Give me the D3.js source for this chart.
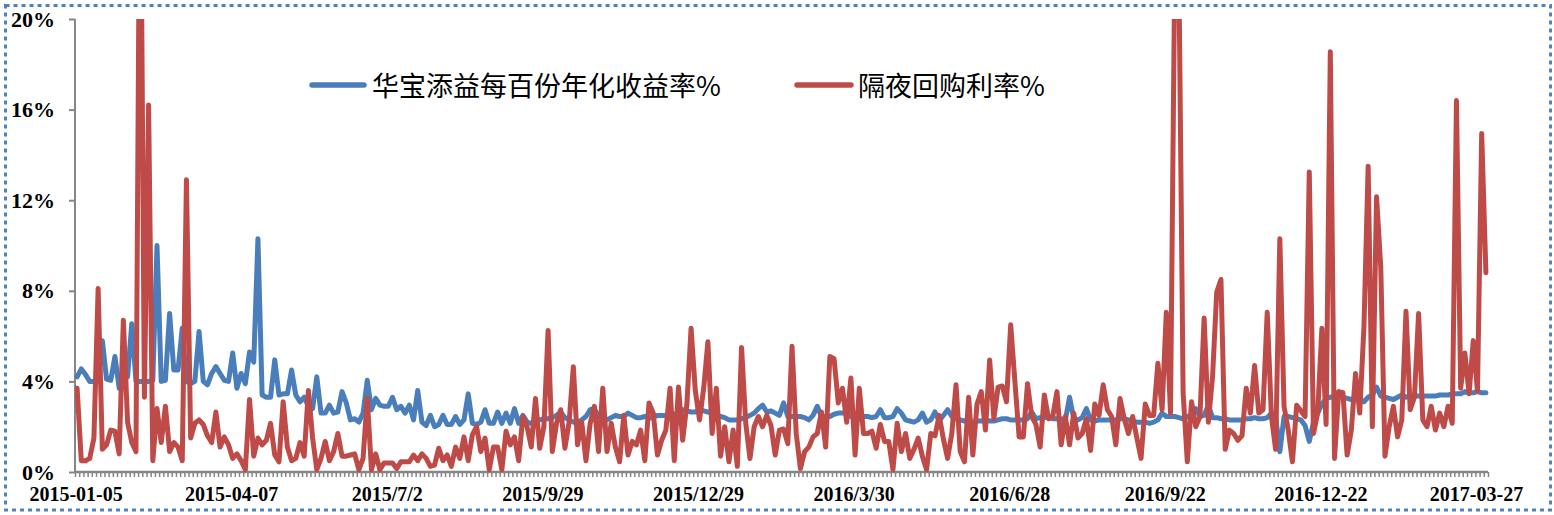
<!DOCTYPE html>
<html>
<head>
<meta charset="utf-8">
<script src="https://cdn.jsdelivr.net/npm/d3@7"></script>
<style>
  html, body { margin: 0; padding: 0; background: #fff; }
  svg { display: block; }
</style>
</head>
<body>
<div id="chart"></div>
<script>
// x axis: one category per observation, a label every 37 categories
var categoryCount = 336;
var labelEvery = 37;
var tickLabels = ["2015-01-05", "2015-04-07", "2015/7/2", "2015/9/29", "2015/12/29",
  "2016/3/30", "2016/6/28", "2016/9/22", "2016-12-22", "2017-03-27"];
var yTicks = [0, 4, 8, 12, 16, 20];

var seriesNames = ["华宝添益每百份年化收益率%", "隔夜回购利率%"];

// 华宝添益每百份年化收益率 (%)
var fundYield = [
  4.2, 4.55, 4.3, 4.0, 4.0, 4.0, 5.8, 4.1, 4.05, 5.1,
  3.7, 4.6, 4.2, 6.55, 4.0, 4.0, 4.0, 4.0, 4.05, 10.0,
  4.0, 4.05, 7.0, 4.5, 4.5, 6.35, 4.0, 3.9, 4.0, 6.2,
  4.0, 3.85, 4.35, 4.65, 4.35, 4.05, 4.0, 5.25, 3.7, 4.35,
  3.9, 5.3, 4.85, 10.3, 3.4, 3.3, 3.3, 4.95, 3.4, 3.45,
  3.45, 4.5, 3.4, 3.1, 3.3, 2.9, 2.8, 4.2, 2.6, 2.6,
  2.95, 2.6, 2.65, 3.55, 3.05, 2.3, 2.35, 2.2, 2.6, 4.05,
  2.75, 3.25, 2.95, 2.9, 2.9, 3.3, 2.75, 2.9, 2.6, 2.95,
  2.3, 3.6, 2.2, 2.05, 2.5, 2.0, 2.1, 2.5, 2.1, 2.1,
  2.45, 2.1, 2.3, 3.45, 2.15, 2.1, 2.2, 2.75, 2.15, 2.15,
  2.65, 2.15, 2.6, 2.15, 2.8, 2.15, 2.5, 2.2, 2.15, 2.25,
  2.3, 2.35, 2.35, 2.4, 2.5, 2.65, 2.4, 2.3, 2.2, 2.2,
  2.3, 2.45, 2.75, 2.8, 2.45, 2.45, 2.3, 2.4, 2.5, 2.45,
  2.45, 2.6, 2.5, 2.4, 2.4, 2.45, 2.4, 2.4, 2.5, 2.5,
  2.5, 2.55, 2.55, 2.6, 2.75, 2.7, 2.65, 2.65, 2.8, 2.7,
  2.65, 2.6, 2.5, 2.45, 2.4, 2.3, 2.3, 2.3, 2.35, 2.4,
  2.5, 2.6, 2.8, 2.95, 2.65, 2.7, 2.6, 2.5, 3.05, 2.45,
  2.45, 2.45, 2.45, 2.4, 2.3, 2.5, 2.9, 2.45, 2.45, 2.45,
  2.55, 2.6, 2.6, 2.6, 2.45, 2.4, 2.4, 2.45, 2.45, 2.4,
  2.45, 2.75, 2.4, 2.4, 2.45, 2.8, 2.6, 2.3, 2.25, 2.2,
  2.3, 2.6, 2.2, 2.3, 2.65, 2.25, 2.5, 2.75, 2.45, 2.35,
  2.3, 2.25, 2.2, 2.2, 2.25, 2.25, 2.3, 2.25, 2.25, 2.3,
  2.35, 2.35, 2.3, 2.3, 2.3, 2.3, 2.35, 2.65, 2.35, 2.4,
  2.4, 2.45, 2.35, 2.35, 2.35, 2.3, 3.3, 2.35, 2.3, 2.4,
  2.8, 2.3, 2.25, 2.3, 2.3, 2.3, 2.3, 2.3, 2.35, 2.35,
  2.3, 2.25, 2.2, 2.2, 2.2, 2.15, 2.2, 2.3, 2.6, 2.45,
  2.45, 2.45, 2.4, 2.35, 2.45, 2.5, 2.8, 2.45, 2.5, 2.95,
  2.4, 2.4, 2.35, 2.35, 2.3, 2.3, 2.3, 2.3, 2.35, 2.35,
  2.4, 2.35, 2.35, 2.4, 2.6, 2.45, 0.9, 2.45, 2.45, 2.4,
  2.35, 2.3, 2.05, 1.35, 2.2, 2.6, 3.0, 3.25, 3.3, 3.35,
  3.4, 3.3, 3.25, 3.2, 3.25, 3.2, 3.1, 3.3, 3.4, 3.75,
  3.35, 3.3, 3.25, 3.2, 3.3, 3.4, 3.3, 3.35, 3.35, 3.35,
  3.35, 3.35, 3.35, 3.35, 3.4, 3.4, 3.4, 3.45, 3.45, 3.45,
  3.55, 3.5, 3.5, 3.55, 3.5, 3.5
];

// 隔夜回购利率 (%), spikes above 20 are cut off by the plot area
var overnightRepo = [
  3.7, 0.5, 0.5, 0.6, 1.5, 8.1, 1.0, 1.2, 1.85, 1.8,
  0.8, 6.7, 2.2, 1.3, 0.9, 30, 3.3, 16.2, 0.5, 2.8,
  1.3, 2.9, 0.9, 1.3, 1.1, 0.5, 12.9, 1.5, 2.15, 2.3,
  2.1, 1.6, 1.3, 2.65, 1.1, 1.55, 1.2, 0.6, 0.8, 0.5,
  0.1, 3.2, 0.7, 1.5, 1.2, 1.4, 2.15, 0.75, 0.45, 3.1,
  1.1, 0.5, 0.6, 1.3, 0.7, 3.6, 1.5, 0.1, 0.6, 1.35,
  0.5, 0.9, 1.7, 0.7, 0.7, 0.75, 0.8, 0.1, 0.6, 3.25,
  0.1, 0.8, 0.1, 0.4, 0.4, 0.4, 0.15, 0.45, 0.45, 0.45,
  0.75, 0.5, 0.8, 0.6, 0.25, 0.3, 1.05, 0.5, 0.75, 0.25,
  1.1, 0.6, 1.55, 0.5, 1.65, 2.0, 0.9, 1.5, 0.1, 1.1,
  1.1, 0.1, 1.8, 1.2, 1.55, 0.5, 2.45, 2.0, 1.1, 3.25,
  1.05, 2.0, 6.25, 0.9, 2.15, 2.75, 1.05, 2.2, 4.65, 1.2,
  2.2, 0.5, 2.15, 2.9, 0.9, 3.7, 0.9, 2.15, 1.1, 0.45,
  2.5, 0.75, 1.35, 1.2, 1.85, 0.5, 3.05, 2.6, 0.75, 1.4,
  1.85, 3.7, 0.5, 3.75, 1.4, 3.0, 6.35, 3.6, 2.3, 3.7,
  5.75, 1.7, 3.7, 0.7, 2.0, 0.45, 1.85, 0.25, 5.5, 2.15,
  0.6, 2.0, 2.45, 2.0, 2.5, 2.05, 0.75, 1.85, 1.9, 1.25,
  5.55, 1.7, 0.15, 0.9, 1.1, 1.55, 1.7, 2.65, 1.1, 5.1,
  5.0, 3.05, 3.7, 2.2, 4.15, 0.75, 3.7, 1.7, 1.7, 1.8,
  1.05, 2.1, 1.35, 1.35, 0.1, 2.15, 0.9, 1.7, 0.6, 1.0,
  1.5, 0.7, 0.1, 1.7, 1.6, 2.5, 1.45, 0.6, 1.7, 3.85,
  0.9, 0.45, 3.3, 0.75, 3.0, 3.55, 1.85, 4.95, 2.35, 3.75,
  3.8, 3.1, 6.5, 4.0, 1.55, 1.55, 3.9, 2.45, 2.1, 1.1,
  3.4, 2.35, 2.45, 3.55, 1.2, 2.45, 1.2, 2.6, 1.5, 1.7,
  2.35, 0.95, 3.0, 2.5, 3.85, 2.75, 2.45, 1.2, 3.25, 2.35,
  1.7, 2.45, 1.5, 0.6, 3.0, 2.5, 2.5, 4.8, 2.75, 7.05,
  2.6, 22, 22, 3.5, 0.45, 3.1, 2.0, 2.45, 6.8, 2.2,
  4.2, 7.95, 8.5, 1.0, 1.85, 1.7, 1.4, 1.6, 3.7, 2.6,
  4.7, 2.6, 2.75, 7.05, 2.45, 1.0, 10.3, 2.9, 1.85, 0.45,
  2.95, 2.7, 2.45, 13.25, 1.7, 2.6, 6.35, 2.1, 18.55, 0.6,
  3.55, 3.5, 0.75, 1.85, 4.35, 2.6, 6.4, 13.5, 2.0, 12.15,
  9.05, 0.7, 2.0, 2.9, 1.55, 2.3, 7.1, 2.75, 3.3, 7.0,
  2.3, 2.0, 2.9, 1.85, 2.6, 2.0, 2.9, 2.15, 16.4, 3.7,
  5.25, 3.45, 5.8, 3.55, 14.95, 8.8
];

var blue = "#4A7EBB", red = "#BE4B48", axisGray = "#868686";
var numFont = "'Liberation Serif', 'Times New Roman', serif";
var cjkFont = "'Noto Sans CJK SC', 'Liberation Serif', serif";

var W = 1554, H = 515;
var plot = { left: 75, right: 1488, top: 19, bottom: 472 };

var svg = d3.select("#chart")
  .append("svg")
  .attr("width", W)
  .attr("height", H);

// dotted frame round the whole chart
svg.append("rect")
  .attr("x", 5.5).attr("y", 5.5)
  .attr("width", 1545).attr("height", 504.5)
  .attr("fill", "#fff")
  .attr("stroke", "#4F81BD")
  .attr("stroke-width", 3)
  .attr("stroke-dasharray", "4,4");

var x = d3.scaleLinear().domain([0, categoryCount]).range([plot.left, plot.right]);
var y = d3.scaleLinear().domain([0, 20]).range([plot.bottom, plot.top]);

// y axis
var yAxis = svg.append("g")
  .attr("transform", "translate(" + plot.left + ",0)")
  .call(d3.axisLeft(y).tickValues(yTicks).tickSize(6).tickPadding(14)
    .tickFormat(function(d) { return d + "%"; }));
yAxis.select(".domain").attr("stroke", axisGray).attr("stroke-width", 2)
  .attr("d", "M0," + plot.top + "V" + plot.bottom);
yAxis.selectAll(".tick line").attr("stroke", axisGray).attr("stroke-width", 2);
yAxis.selectAll(".tick text")
  .attr("fill", "#000")
  .style("font-family", numFont)
  .style("font-weight", "bold")
  .style("font-size", "22px");

// x axis: small tick at every category boundary, labels every 37 categories
var xTicks = d3.range(0, categoryCount + 1);
var xAxis = svg.append("g")
  .attr("transform", "translate(0," + plot.bottom + ")")
  .call(d3.axisBottom(x).tickValues(xTicks).tickSize(5).tickFormat(""));
xAxis.select(".domain").attr("stroke", axisGray).attr("stroke-width", 2.5)
  .attr("d", "M" + plot.left + ",0H" + plot.right);
xAxis.selectAll(".tick line").attr("stroke", axisGray).attr("stroke-width", 1.5);

svg.append("g")
  .selectAll("text")
  .data(tickLabels)
  .enter()
  .append("text")
  .attr("x", function(d, i) { return x(i * labelEvery + 0.5) - 1; })
  .attr("y", 501)
  .attr("text-anchor", "middle")
  .style("font-family", numFont)
  .style("font-weight", "bold")
  .style("font-size", "20px")
  .text(function(d) { return d; });

// clip the lines to the plot area (spikes run off the top)
svg.append("clipPath").attr("id", "plotClip")
  .append("rect")
  .attr("x", plot.left).attr("y", plot.top)
  .attr("width", plot.right - plot.left + 4)
  .attr("height", plot.bottom - plot.top + 4);

var line = d3.line()
  .x(function(d, i) { return x(i + 0.5); })
  .y(function(d) { return y(d); });

var lines = svg.append("g").attr("clip-path", "url(#plotClip)");

lines.append("path")
  .datum(fundYield)
  .attr("d", line)
  .attr("fill", "none")
  .attr("stroke", blue)
  .attr("stroke-width", 5)
  .attr("stroke-linejoin", "round")
  .attr("stroke-linecap", "round");

lines.append("path")
  .datum(overnightRepo)
  .attr("d", line)
  .attr("fill", "none")
  .attr("stroke", red)
  .attr("stroke-width", 5)
  .attr("stroke-linejoin", "round")
  .attr("stroke-linecap", "round");

// legend
var legendItems = [
  { name: seriesNames[0], color: blue, x0: 312, x1: 364, tx: 372 },
  { name: seriesNames[1], color: red, x0: 797, x1: 851, tx: 858 }
];
var legend = svg.append("g");
legend.selectAll("line")
  .data(legendItems)
  .enter()
  .append("line")
  .attr("x1", function(d) { return d.x0; })
  .attr("x2", function(d) { return d.x1; })
  .attr("y1", 85).attr("y2", 85)
  .attr("stroke", function(d) { return d.color; })
  .attr("stroke-width", 5.5)
  .attr("stroke-linecap", "round");
legend.selectAll("text")
  .data(legendItems)
  .enter()
  .append("text")
  .attr("x", function(d) { return d.tx; })
  .attr("y", 96)
  .style("font-family", cjkFont)
  .style("font-size", "27px")
  .attr("fill", "#000")
  .text(function(d) { return d.name; });
</script>
</body>
</html>
